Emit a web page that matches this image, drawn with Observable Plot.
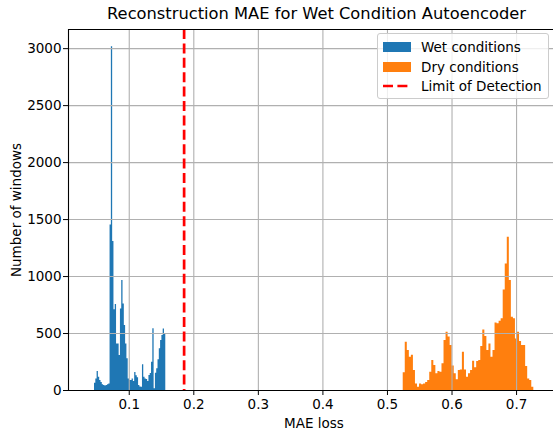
<!DOCTYPE html>
<html><head><meta charset="utf-8">
<script src="https://cdn.jsdelivr.net/npm/d3@7"></script>
<script src="https://cdn.jsdelivr.net/npm/@observablehq/plot@0.6"></script>
<style>
body{margin:0;background:#fff;font-family:"DejaVu Sans",sans-serif;}
#wrap{position:relative;width:553px;height:433px;overflow:hidden;}
#title{height:25px;line-height:28px;margin-left:73px;width:487px;text-align:center;font-size:16.3px;color:#000;white-space:nowrap;}
#legend{position:absolute;left:377px;top:33px;width:170px;height:64px;border:1px solid #cccccc;border-radius:3px;background:rgba(255,255,255,0.8);font-size:13.5px;}
.row{position:absolute;left:0;height:20px;width:170px;}
.sw{position:absolute;left:5px;top:5px;width:28px;height:10px;}
.lab{position:absolute;left:43px;top:0;line-height:20px;white-space:nowrap;color:#000;}
</style></head><body>
<div id="wrap">
<div id="title">Reconstruction MAE for Wet Condition Autoencoder</div>
<div id="chart"></div>
<div id="legend"></div>
</div>
<script>
// Data
const wetStart = 0.0462, wetEnd = 0.1566;
const wetCounts = [64,102,167,117,88,70,50,44,40,44,50,58,1453,3017,1307,708,754,409,409,307,716,965,760,570,409,278,100,88,88,102,80,158,130,111,44,30,29,225,117,102,96,80,132,150,249,541,15,152,190,269,366,439,482,540,491];
const dryStart = 0.5244, dryEnd = 0.7267;
const dryCounts = [155,424,351,292,310,175,58,29,58,50,58,70,88,161,263,219,146,167,161,234,439,512,470,395,215,146,94,175,181,336,181,117,146,175,257,199,254,263,386,532,474,351,409,292,351,593,585,608,629,883,1111,1345,965,643,629,452,512,430,395,395,210,102,88,29];
const limitOfDetection = 0.185;
const xTicks = [0.1,0.2,0.3,0.4,0.5,0.6,0.7];
const yTicks = [0,500,1000,1500,2000,2500,3000];
const seriesNames = ["Wet conditions","Dry conditions","Limit of Detection"];
const colors = ["#1f77b4","#ff7f0e","red"];
const xDomain = [0.0059, 0.7572];
const yDomain = [0, 3168];

// histogram outline as a step area (bin left edges + closing right edge)
function toSteps(start, end, counts, series){
  const w = (end - start) / counts.length;
  const pts = counts.map((c, i) => ({x: start + i*w, y: c, series}));
  pts.push({x: end, y: counts[counts.length - 1], series});
  return pts;
}
const wet = toSteps(wetStart, wetEnd, wetCounts, seriesNames[0]);
const dry = toSteps(dryStart, dryEnd, dryCounts, seriesNames[1]);

const chart = Plot.plot({
  width: 553, height: 408,
  marginTop: 4, marginBottom: 43, marginLeft: 68, marginRight: 0,
  style: {fontFamily: "DejaVu Sans", fontSize: "13.5px", color: "#000", background: "#fff"},
  x: {domain: xDomain},
  y: {domain: yDomain},
  marks: [
    Plot.areaY(wet, {x: "x", y: "y", curve: "step-after", fill: colors[0]}),
    Plot.areaY(dry, {x: "x", y: "y", curve: "step-after", fill: colors[1]}),
    Plot.gridX(xTicks, {stroke: "#b0b0b0", strokeOpacity: 1, strokeWidth: 1.1}),
    Plot.gridY(yTicks, {stroke: "#b0b0b0", strokeOpacity: 1, strokeWidth: 1.1}),
    Plot.ruleX([limitOfDetection], {stroke: colors[2], strokeWidth: 2.7, strokeDasharray: "10,4.4"}),
    Plot.ruleX([xDomain[0]], {stroke: "#000", strokeWidth: 1.1}),
    Plot.ruleY([yDomain[0]], {stroke: "#000", strokeWidth: 1.1}),
    Plot.ruleY([yDomain[1]], {stroke: "#000", strokeWidth: 1.1}),
    Plot.axisX(xTicks, {tickSize: 5, tickPadding: 4, tickFormat: d => d.toFixed(1), label: null, fontSize: 13.5, stroke: "#000"}),
    Plot.axisY(yTicks, {tickSize: 5, tickPadding: 2, tickFormat: d => String(d), label: null, fontSize: 13.5, stroke: "#000"}),
    Plot.text(["MAE loss"], {frameAnchor: "bottom", dy: 33, dx: 3, lineAnchor: "middle", fontSize: 13.5, fill: "#000"}),
    Plot.text(["Number of windows"], {frameAnchor: "left", dx: -52, rotate: -90, lineAnchor: "middle", textAnchor: "middle", fontSize: 13.5, fill: "#000"})
  ]
});
document.getElementById("chart").appendChild(chart);

// legend
const leg = document.getElementById("legend");
seriesNames.forEach((name, i) => {
  const row = document.createElement("div");
  row.className = "row";
  row.style.top = (3 + i*19.5) + "px";
  let sw;
  if (i < 2) {
    sw = `<div class="sw" style="background:${colors[i]}"></div>`;
  } else {
    sw = `<svg style="position:absolute;left:5px;top:0" width="30" height="20"><line x1="0" y1="10" x2="28" y2="10" stroke="${colors[i]}" stroke-width="2.7" stroke-dasharray="10,4.4"/></svg>`;
  }
  row.innerHTML = sw + `<div class="lab">${name}</div>`;
  leg.appendChild(row);
});
</script>
</body></html>
